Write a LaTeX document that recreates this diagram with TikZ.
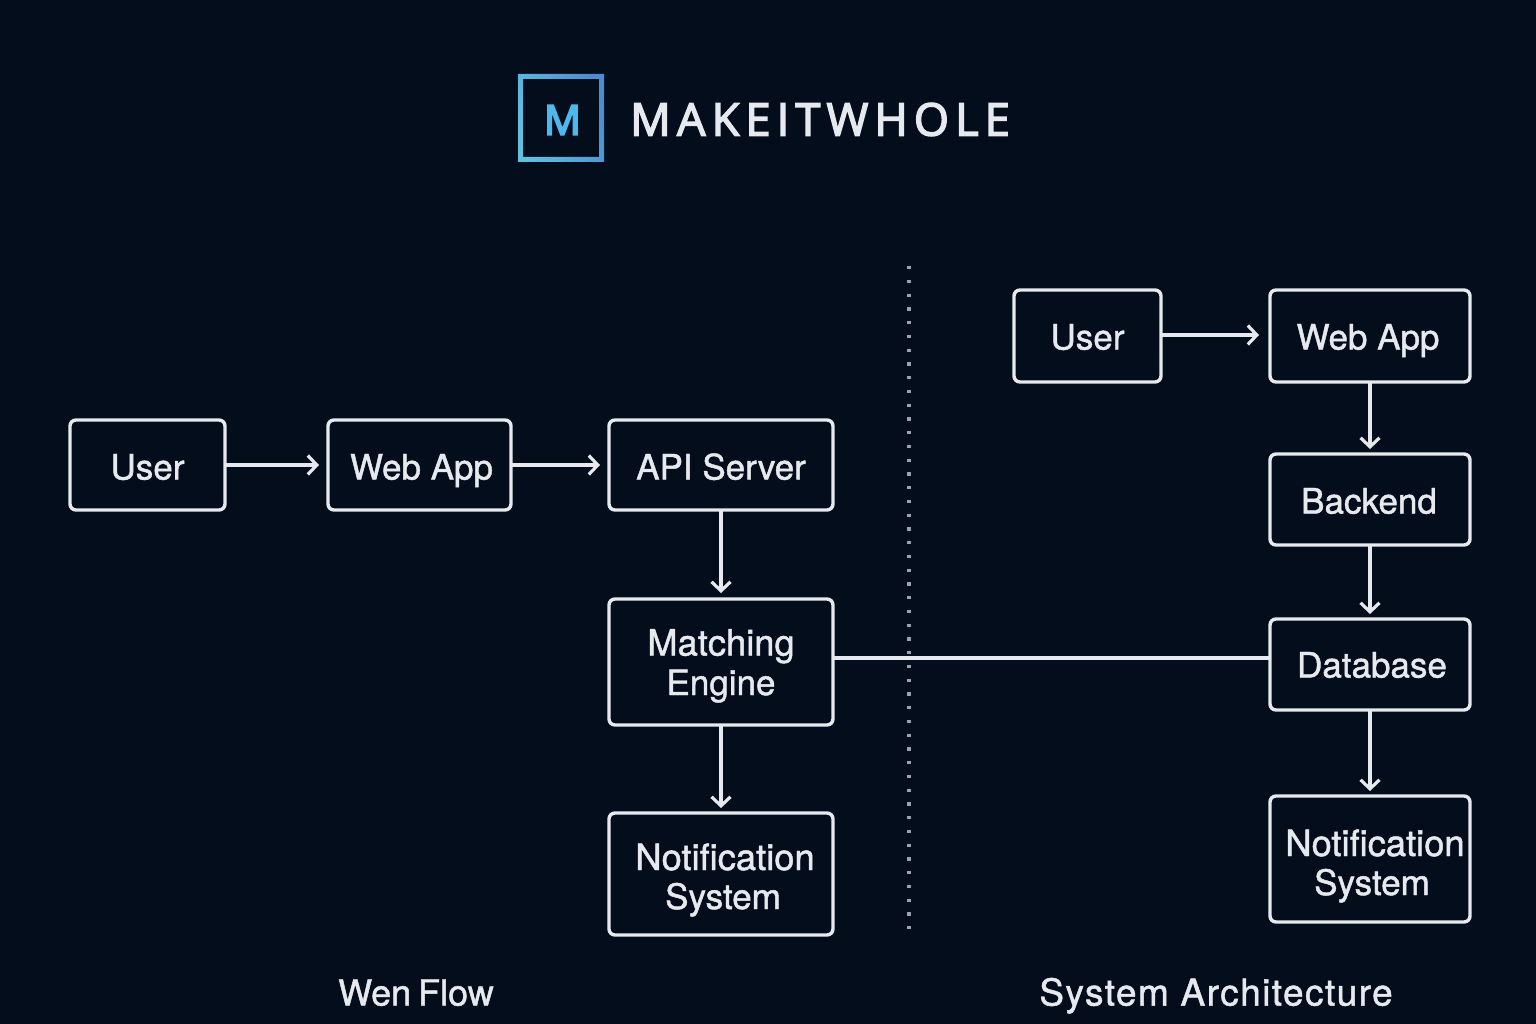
\documentclass[tikz,border=0pt]{standalone}
\usepackage{fontspec}
\usetikzlibrary{arrows.meta,calc}
\setmainfont[FakeBold=1.3]{TeX Gyre Heros}
\newfontfamily\capfont[LetterSpace=3.9,FakeBold=1.3]{TeX Gyre Heros}
\newfontfamily\logofont[LetterSpace=13.8,FakeBold=3.2]{Open Sans}
\newfontfamily\logom[FakeBold=4.5]{Open Sans}
\definecolor{bgc}{HTML}{030D1C}
\definecolor{ink}{HTML}{E6E9ED}
\definecolor{dotc}{HTML}{9CA3AC}
\definecolor{mblue}{HTML}{4DB8EE}
\definecolor{lgl}{HTML}{4E8CD0}
\definecolor{lgr}{HTML}{62BEDF}
% one line of a box label: horizontal nudge, vertical nudge, text
\newcommand{\tl}[3]{\hspace*{#1pt}\raisebox{-#2pt}[28pt][11pt]{#3}}
\newcommand{\wide}[1]{{\fontsize{36.3}{40}\selectfont #1}}
\tikzset{
  x=1pt,y=-1pt,
  box/.style={draw=ink,line width=3.4pt,rounded corners=6pt,outer sep=0pt,inner sep=0pt,
    text=ink,align=center,font=\fontsize{35}{40}\selectfont},
  flow/.style={draw=ink,line width=3.2pt,-{Straight Barb[length=9pt,width=19pt,line width=3.2pt]}},
  link/.style={draw=ink,line width=3.2pt},
  caption/.style={text=ink,inner sep=0pt,anchor=base},
}
\begin{document}
\begin{tikzpicture}
\useasboundingbox (0,0) rectangle (1536,1024);
\fill[bgc] (0,0) rectangle (1536,1024);

% logo
\shade[even odd rule,left color=lgl,right color=lgr,shading angle=-70]
  (518,74) rectangle (604,162) (523,79) rectangle (599,157);
\node[text=mblue,inner sep=0pt,font=\logom\fontsize{41}{41}\selectfont] (logom) at (562.5,120) {M};
\node[text=ink,inner sep=0pt,anchor=west,font=\logofont\fontsize{45}{45}\selectfont] (logot) at (630,119.5) {MAKEITWHOLE};

% separator
\draw[dotc,line width=3.4pt,dash pattern=on 3.4pt off 10.35pt] (909,266) -- (909,934);

% left
\node[box,minimum width=155pt,minimum height=90pt] (u1) at (147.5,465) {\tl{0}{6}{User}};
\node[box,minimum width=183pt,minimum height=90pt] (w1) at (419.5,465) {\tl{4}{6}{Web App}};
\node[box,minimum width=224pt,minimum height=90pt] (a1) at (721,465) {\tl{0}{6}{API Server}};
\node[box,minimum width=224pt,minimum height=126pt] (m1) at (721,662) {\tl{0}{5}{\wide{Matching}}\\\tl{0}{4.5}{Engine}};
\node[box,minimum width=224pt,minimum height=122pt] (n1) at (721,874) {\tl{8}{7.5}{\wide{Notification}}\\\tl{4}{6.5}{System}};

% right
\node[box,minimum width=147pt,minimum height=92pt] (u2) at (1087.5,336) {\tl{0}{5}{User}};
\node[box,minimum width=200pt,minimum height=92pt] (w2) at (1370,336) {\tl{-4}{5}{Web App}};
\node[box,minimum width=200pt,minimum height=91pt] (b2) at (1370,499.5) {\tl{-2}{5.5}{Backend}};
\node[box,minimum width=200pt,minimum height=91pt] (d2) at (1370,664.5) {\tl{4}{4.5}{Database}};
\node[box,minimum width=200pt,minimum height=126pt] (n2) at (1370,859) {\tl{10}{8.5}{\wide{Notification}}\\\tl{4}{7.5}{System}};

% connectors
\draw[flow,shorten >=9pt] (u1) -- (w1);
\draw[flow,shorten >=9pt] (w1) -- (a1);
\draw[flow,shorten >=6pt] (a1) -- (m1);
\draw[flow,shorten >=5pt] (m1) -- (n1);
\coordinate (uy) at (1200,335);
\draw[flow,shorten >=11pt] (u2.east |- uy) -- (w2.west |- uy);
\draw[flow,shorten >=5pt] (w2) -- (b2);
\draw[flow,shorten >=5pt] (b2) -- (d2);
\draw[flow,shorten >=5pt] (d2) -- (n2);
\coordinate (ly) at (1000,658);
\draw[link] (m1.east |- ly) -- (d2.west |- ly);

% captions
\node[caption,font=\fontsize{36}{40}\selectfont] (c1) at (416,1005.5) {Wen\hspace{-3pt} Flow};
\node[caption,font=\capfont\fontsize{37}{40}\selectfont] (c2) at (1216,1005.5) {System Architecture};
\end{tikzpicture}
\end{document}
